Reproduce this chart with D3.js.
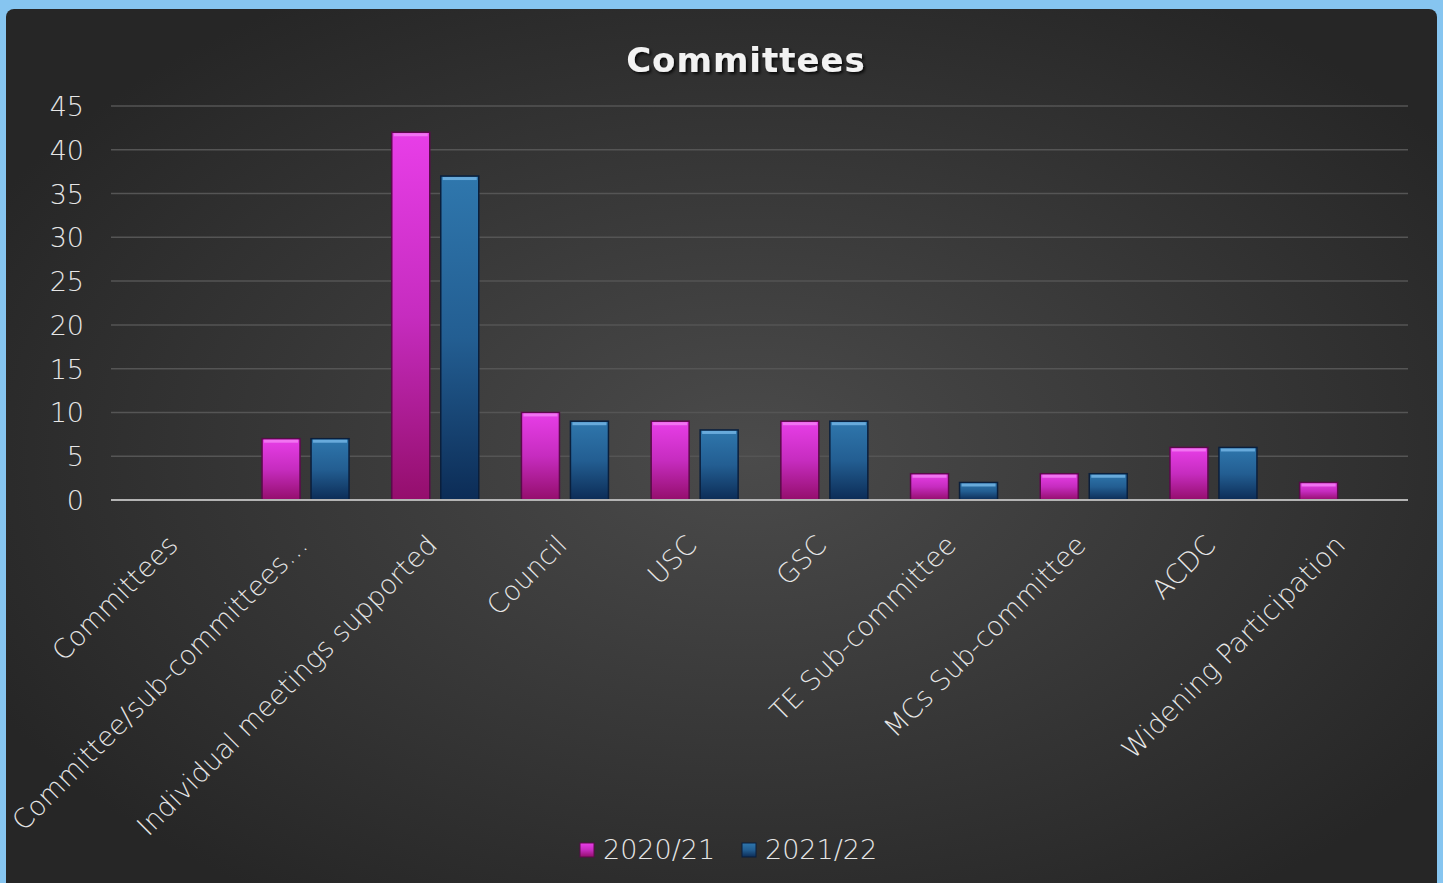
<!DOCTYPE html>
<html><head><meta charset="utf-8">
<script src="https://cdn.jsdelivr.net/npm/d3@7"></script>
<style>
html,body{margin:0;padding:0;background:#86c5f0;overflow:hidden}
svg{display:block}
</style></head>
<body>
<svg id="chart" width="1443" height="883"></svg>
<script>
const categories = ["Committees","Committee/sub-committees…","Individual meetings supported","Council","USC","GSC","TE Sub-committee","MCs Sub-committee","ACDC","Widening Participation"];
const series2020 = [0,7,42,10,9,9,3,3,6,2];
const series2021 = [0,7,37,9,8,9,2,3,6,0];
const seriesNames = ["2020/21","2021/22"];
const yTicks = [0,5,10,15,20,25,30,35,40,45];

const svg = d3.select("#chart");
const FONT = "'Century Gothic','DejaVu Sans',sans-serif";
const defs = svg.append("defs");

const bg = defs.append("radialGradient").attr("id","bg").attr("cx","52%").attr("cy","50%").attr("r","60%");
bg.append("stop").attr("offset","0%").attr("stop-color","#4b4b4b");
bg.append("stop").attr("offset","100%").attr("stop-color","#262626");

const gp = defs.append("linearGradient").attr("id","gPink").attr("x1",0).attr("x2",0).attr("y1",0).attr("y2",1);
gp.append("stop").attr("offset","0%").attr("stop-color","#e83ee8");
gp.append("stop").attr("offset","50%").attr("stop-color","#c62cbf");
gp.append("stop").attr("offset","100%").attr("stop-color","#940e6c");
const gb = defs.append("linearGradient").attr("id","gBlue").attr("x1",0).attr("x2",0).attr("y1",0).attr("y2",1);
gb.append("stop").attr("offset","0%").attr("stop-color","#2f77ad");
gb.append("stop").attr("offset","50%").attr("stop-color","#235e92");
gb.append("stop").attr("offset","100%").attr("stop-color","#0c2c56");

const sh = defs.append("filter").attr("id","tshadow").attr("x","-20%").attr("y","-50%").attr("width","140%").attr("height","200%");
sh.append("feDropShadow").attr("dx",2).attr("dy",2).attr("stdDeviation",1.5).attr("flood-color","#000").attr("flood-opacity",0.8);

svg.append("rect").attr("x",6).attr("y",9).attr("width",1431).attr("height",890).attr("rx",8).attr("fill","url(#bg)");

const margin = {left:111, right:1408, top:106, bottom:500};
const x = d3.scaleBand().domain(categories).range([margin.left, margin.right]);
const y = d3.scaleLinear().domain([0,45]).range([margin.bottom, margin.top]);

// gridlines
svg.append("g").selectAll("line").data(yTicks.filter(d=>d>0)).join("line")
  .attr("x1",margin.left).attr("x2",margin.right)
  .attr("y1",d=>y(d)).attr("y2",d=>y(d))
  .attr("stroke","#555").attr("stroke-width",1.5);

// y axis labels
const yAxis = d3.axisLeft(y).tickValues(yTicks).tickSize(0).tickPadding(27);
const yg = svg.append("g").attr("transform",`translate(${margin.left},0)`).call(yAxis);
yg.select(".domain").remove();
yg.selectAll("text").attr("fill","#e6e6e6").attr("font-size",27).attr("font-weight",200).attr("font-family",FONT).attr("dy","0.35em");

// bars
const barW = 38, gap = 11;
const data = [series2020, series2021];
const fills = ["url(#gPink)","url(#gBlue)"];
const strokes = ["#5a0a4a","#0a1f3c"];
const tops = ["#f27af2","#6fb0e0"];
data.forEach((s,si)=>{
  const g = svg.append("g");
  categories.forEach((c,i)=>{
    const v = s[i];
    if (!v) return;
    const cx = x(c) + x.bandwidth()/2;
    const x0 = si===0 ? cx - gap/2 - barW : cx + gap/2;
    g.append("rect").attr("x",x0).attr("y",y(v)).attr("width",barW).attr("height",y(0)-y(v))
      .attr("fill",fills[si]).attr("stroke",strokes[si]).attr("stroke-width",1.5);
    g.append("rect").attr("x",x0+2).attr("y",y(v)+1).attr("width",barW-4).attr("height",3)
      .attr("fill",tops[si]).attr("opacity",0.9);
  });
});

// x axis line
svg.append("line").attr("x1",margin.left).attr("x2",margin.right).attr("y1",y(0)).attr("y2",y(0))
  .attr("stroke","#b4b4b4").attr("stroke-width",2);

// x labels
const xAxis = d3.axisBottom(x).tickSize(0);
const xg = svg.append("g").attr("transform",`translate(0,${y(0)})`).call(xAxis);
xg.select(".domain").remove();
xg.selectAll("text")
  .attr("fill","#e6e6e6").attr("font-size",27).attr("font-weight",200).attr("font-family",FONT)
  .attr("text-anchor","end").attr("dy","0.35em").attr("y",0)
  .attr("transform","translate(-3,40) rotate(-45)");

// title
svg.append("text").attr("x",746).attr("y",72).attr("text-anchor","middle")
  .attr("font-family",FONT).attr("font-weight","bold").attr("font-size",34).attr("letter-spacing",1)
  .attr("fill","#f2f2f2").attr("filter","url(#tshadow)").text("Committees");

// legend
const leg = svg.append("g");
const legItems = [{n:seriesNames[0],f:"url(#gPink)",s:strokes[0],x:580},{n:seriesNames[1],f:"url(#gBlue)",s:strokes[1],x:742}];
legItems.forEach(d=>{
  leg.append("rect").attr("x",d.x).attr("y",843).attr("width",14).attr("height",14).attr("fill",d.f).attr("stroke",d.s);
  leg.append("text").attr("x",d.x+23).attr("y",850).attr("dy","0.35em").attr("font-size",27).attr("font-weight",200)
    .attr("font-family",FONT).attr("fill","#e6e6e6").text(d.n);
});
</script>
</body></html>
